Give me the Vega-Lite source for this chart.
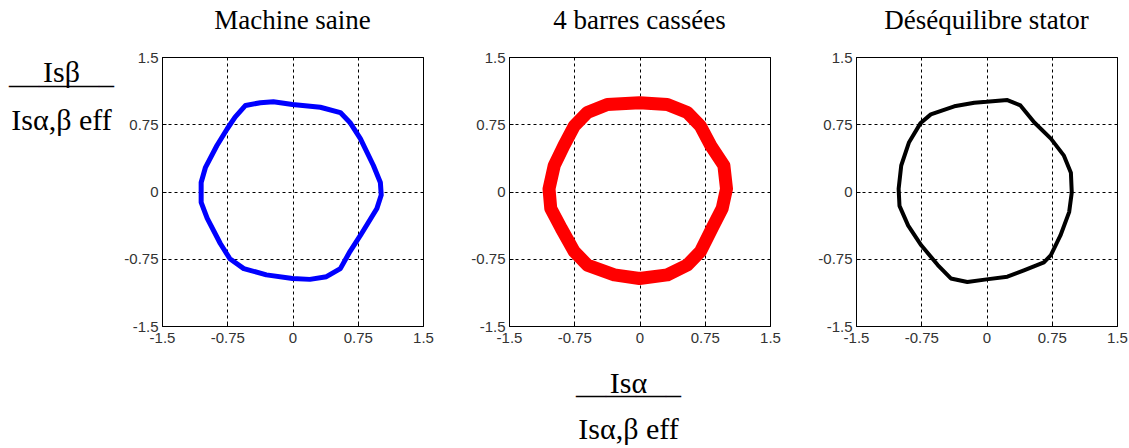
{
  "$schema": "https://vega.github.io/schema/vega-lite/v6.json",
  "background": "white",
  "padding": {"left": 8, "top": 6, "right": 5, "bottom": 5},
  "datasets": {
    "sain": [
      {"i": 1, "x": -0.37, "y": 0.99}, {"i": 2, "x": -0.22, "y": 1.0}, {"i": 3, "x": 0.0, "y": 0.97},
      {"i": 4, "x": 0.32, "y": 0.94}, {"i": 5, "x": 0.55, "y": 0.88}, {"i": 6, "x": 0.66, "y": 0.77},
      {"i": 7, "x": 0.78, "y": 0.59}, {"i": 8, "x": 0.93, "y": 0.29}, {"i": 9, "x": 1.01, "y": 0.1},
      {"i": 10, "x": 1.02, "y": -0.04}, {"i": 11, "x": 0.97, "y": -0.19}, {"i": 12, "x": 0.78, "y": -0.49},
      {"i": 13, "x": 0.66, "y": -0.67}, {"i": 14, "x": 0.55, "y": -0.86}, {"i": 15, "x": 0.39, "y": -0.95},
      {"i": 16, "x": 0.2, "y": -0.98}, {"i": 17, "x": 0.0, "y": -0.97}, {"i": 18, "x": -0.3, "y": -0.93},
      {"i": 19, "x": -0.56, "y": -0.86}, {"i": 20, "x": -0.72, "y": -0.75}, {"i": 21, "x": -0.83, "y": -0.58},
      {"i": 22, "x": -0.98, "y": -0.3}, {"i": 23, "x": -1.05, "y": -0.12}, {"i": 24, "x": -1.05, "y": 0.1},
      {"i": 25, "x": -1.0, "y": 0.27}, {"i": 26, "x": -0.87, "y": 0.51}, {"i": 27, "x": -0.75, "y": 0.7},
      {"i": 28, "x": -0.66, "y": 0.83}, {"i": 29, "x": -0.54, "y": 0.96}, {"i": 30, "x": -0.37, "y": 0.99}
    ],
    "barres": [
      {"i": 1, "x": 0.0, "y": 0.99}, {"i": 2, "x": 0.32, "y": 0.97}, {"i": 3, "x": 0.55, "y": 0.88},
      {"i": 4, "x": 0.7, "y": 0.73}, {"i": 5, "x": 0.82, "y": 0.51}, {"i": 6, "x": 0.97, "y": 0.29},
      {"i": 7, "x": 1.0, "y": 0.03}, {"i": 8, "x": 0.95, "y": -0.19}, {"i": 9, "x": 0.85, "y": -0.38},
      {"i": 10, "x": 0.7, "y": -0.67}, {"i": 11, "x": 0.55, "y": -0.82}, {"i": 12, "x": 0.32, "y": -0.93},
      {"i": 13, "x": 0.0, "y": -0.97}, {"i": 14, "x": -0.29, "y": -0.93}, {"i": 15, "x": -0.6, "y": -0.82},
      {"i": 16, "x": -0.75, "y": -0.67}, {"i": 17, "x": -0.9, "y": -0.41}, {"i": 18, "x": -1.02, "y": -0.19},
      {"i": 19, "x": -1.04, "y": 0.03}, {"i": 20, "x": -0.98, "y": 0.29}, {"i": 21, "x": -0.87, "y": 0.51},
      {"i": 22, "x": -0.75, "y": 0.73}, {"i": 23, "x": -0.6, "y": 0.88}, {"i": 24, "x": -0.37, "y": 0.97},
      {"i": 25, "x": 0.0, "y": 0.99}
    ],
    "desequilibre": [
      {"i": 1, "x": 0.0, "y": 1.0}, {"i": 2, "x": 0.24, "y": 1.02}, {"i": 3, "x": 0.39, "y": 0.96},
      {"i": 4, "x": 0.55, "y": 0.77}, {"i": 5, "x": 0.74, "y": 0.59}, {"i": 6, "x": 0.89, "y": 0.4},
      {"i": 7, "x": 0.97, "y": 0.21}, {"i": 8, "x": 0.98, "y": -0.01}, {"i": 9, "x": 0.95, "y": -0.23},
      {"i": 10, "x": 0.85, "y": -0.49}, {"i": 11, "x": 0.74, "y": -0.71}, {"i": 12, "x": 0.66, "y": -0.79},
      {"i": 13, "x": 0.43, "y": -0.88}, {"i": 14, "x": 0.24, "y": -0.95}, {"i": 15, "x": 0.0, "y": -0.98},
      {"i": 16, "x": -0.22, "y": -1.01}, {"i": 17, "x": -0.41, "y": -0.97}, {"i": 18, "x": -0.56, "y": -0.82},
      {"i": 19, "x": -0.75, "y": -0.6}, {"i": 20, "x": -0.9, "y": -0.38}, {"i": 21, "x": -1.0, "y": -0.16},
      {"i": 22, "x": -1.01, "y": 0.03}, {"i": 23, "x": -0.98, "y": 0.29}, {"i": 24, "x": -0.89, "y": 0.55},
      {"i": 25, "x": -0.76, "y": 0.76}, {"i": 26, "x": -0.64, "y": 0.86}, {"i": 27, "x": -0.37, "y": 0.95},
      {"i": 28, "x": -0.14, "y": 0.99}, {"i": 29, "x": 0.0, "y": 1.0}
    ]
  },
  "hconcat": [
    {
      "title": "Machine saine",
      "width": 261, "height": 269,
      "data": {"name": "sain"},
      "mark": {"type": "line", "color": "#0000ff", "strokeWidth": 5, "strokeJoin": "round", "strokeCap": "round"},
      "encoding": {
        "x": {"field": "x", "type": "quantitative", "scale": {"domain": [-1.5, 1.5], "nice": false, "zero": false},
              "axis": {"values": [-1.5, -0.75, 0, 0.75, 1.5], "labelExpr": "datum.value + ''", "title": null}},
        "y": {"field": "y", "type": "quantitative", "scale": {"domain": [-1.5, 1.5], "nice": false, "zero": false},
              "axis": {"values": [-1.5, -0.75, 0, 0.75, 1.5], "labelExpr": "datum.value + ''",
                       "title": ["Isβ", "———–", "\u200b", "\u200b", "Isα,β eff"], "titleAngle": 0, "titleX": -101, "titleY": 24,
                       "titleAlign": "center", "titleBaseline": "alphabetic", "titleLineHeight": 12}},
        "order": {"field": "i", "type": "quantitative"}
      }
    },
    {
      "title": "4 barres cassées",
      "width": 261, "height": 269,
      "data": {"name": "barres"},
      "mark": {"type": "line", "color": "#ff0000", "strokeWidth": 13, "strokeJoin": "round", "strokeCap": "round"},
      "encoding": {
        "x": {"field": "x", "type": "quantitative", "scale": {"domain": [-1.5, 1.5], "nice": false, "zero": false},
              "axis": {"values": [-1.5, -0.75, 0, 0.75, 1.5], "labelExpr": "datum.value + ''",
                       "title": ["Isα", "———–", "\u200b", "\u200b", "Isα,β eff"], "titleAngle": 0, "titleX": 119, "titleY": 66,
                       "titleAlign": "center", "titleBaseline": "alphabetic", "titleLineHeight": 11.5}},
        "y": {"field": "y", "type": "quantitative", "scale": {"domain": [-1.5, 1.5], "nice": false, "zero": false},
              "axis": {"values": [-1.5, -0.75, 0, 0.75, 1.5], "labelExpr": "datum.value + ''", "title": null}},
        "order": {"field": "i", "type": "quantitative"}
      }
    },
    {
      "title": "Déséquilibre stator",
      "width": 261, "height": 269,
      "data": {"name": "desequilibre"},
      "mark": {"type": "line", "color": "#000000", "strokeWidth": 4, "strokeJoin": "round", "strokeCap": "round"},
      "encoding": {
        "x": {"field": "x", "type": "quantitative", "scale": {"domain": [-1.5, 1.5], "nice": false, "zero": false},
              "axis": {"values": [-1.5, -0.75, 0, 0.75, 1.5], "labelExpr": "datum.value + ''", "title": null}},
        "y": {"field": "y", "type": "quantitative", "scale": {"domain": [-1.5, 1.5], "nice": false, "zero": false},
              "axis": {"values": [-1.5, -0.75, 0, 0.75, 1.5], "labelExpr": "datum.value + ''", "title": null}},
        "order": {"field": "i", "type": "quantitative"}
      }
    }
  ],
  "spacing": 36,
  "config": {
    "view": {"stroke": "#000000", "strokeWidth": 1},
    "axis": {
      "labelFont": "Liberation Sans", "labelFontSize": 15, "labelColor": "#333333", "labelPadding": 8,
      "labelFlush": false, "labelOverlap": false,
      "grid": true, "gridColor": "#000000", "gridDash": [3, 3], "gridOpacity": 1, "gridWidth": 1,
      "domain": false, "ticks": true, "tickSize": -4, "tickColor": "#000000",
      "titleFont": "Liberation Serif", "titleFontSize": 30, "titleFontWeight": "normal", "titleColor": "#000000"
    },
    "title": {"font": "Liberation Serif", "fontSize": 27, "fontWeight": "normal", "color": "#000000",
              "baseline": "alphabetic", "offset": 15, "frame": "group", "anchor": "middle"}
  }
}
